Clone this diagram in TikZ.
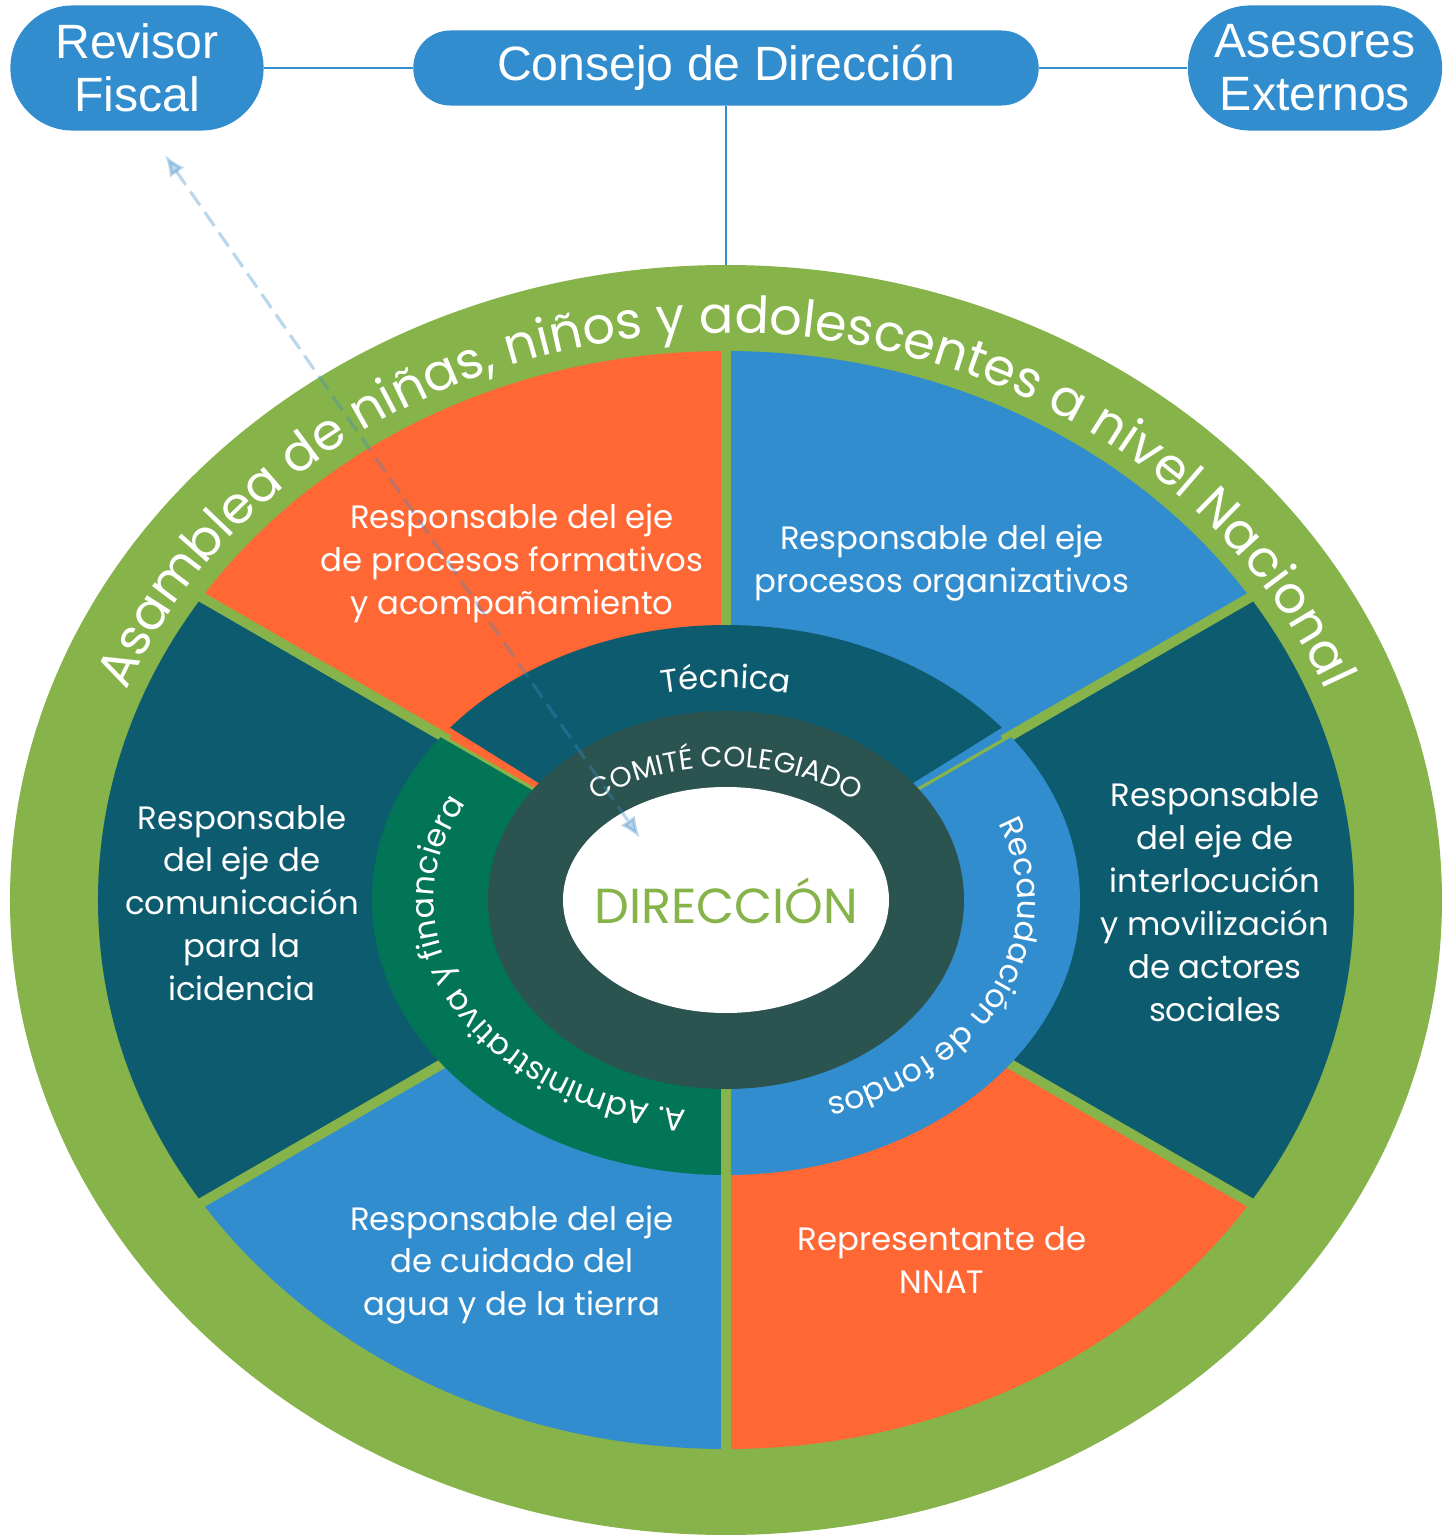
\documentclass[tikz,border=0pt]{standalone}
\usepackage{fontspec}
\setmainfont{Poppins}
\newfontfamily\boxfont{Liberation Sans}
\usetikzlibrary{arrows.meta,decorations.text,positioning}

\definecolor{ringgreen}{RGB}{134,179,74}
\definecolor{axisorange}{RGB}{255,103,52}
\definecolor{axisblue}{RGB}{49,141,206}
\definecolor{axisteal}{RGB}{13,91,111}
\definecolor{admingreen}{RGB}{1,117,85}
\definecolor{comiteslate}{RGB}{43,84,80}
\definecolor{linkblue}{RGB}{60,140,200}

\begin{document}
\begin{tikzpicture}[x=0.01cm,y=0.01cm,
		bubble/.style={fill=axisblue,text=white,font=\boxfont\fontsize{13.7}{15}\selectfont,align=center,inner sep=0pt},
		axistext/.style={text=white,align=center,font=\fontsize{9.2}{12.2}\selectfont},
		divider/.style={ringgreen,line width=2.85pt},
		thindivider/.style={ringgreen,line width=0.9pt},
		link/.style={axisblue,line width=0.7pt},
		curved/.style={decorate,decoration={text along path,text align=center,text color=white}},
		]
	\useasboundingbox (-726,-635) rectangle (726,900);

	% asamblea ring
	\fill[ringgreen] (0,0) ellipse[x radius=716,y radius=635];

	% ejes
	\begin{scope}
		\clip (0,0) ellipse[x radius=628,y radius=549];
		\fill[axisorange] (0,0) -- (90:800) -- (120:800) -- (150:800) -- cycle;
		\fill[axisblue] (0,0) -- (30:800) -- (60:800) -- (90:800) -- cycle;
		\fill[axisteal] (0,0) -- (-30:800) -- (0:800) -- (30:800) -- cycle;
		\fill[axisorange] (0,0) -- (270:800) -- (300:800) -- (330:800) -- cycle;
		\fill[axisblue] (0,0) -- (210:800) -- (240:800) -- (270:800) -- cycle;
		\fill[axisteal] (0,0) -- (150:800) -- (180:800) -- (210:800) -- cycle;
	\end{scope}
	\foreach \a in {30,150,210,330}
		\draw[divider] (\a:320) -- (\a:660);
	\draw[divider] (90:260) -- (90:600);

	% areas
	\begin{scope}
		\clip (0,0) ellipse[x radius=354,y radius=275];
		\fill[axisteal] (0,0) -- (32:500) -- (90:500) -- (148:500) -- cycle;
		\fill[admingreen] (0,0) -- (150:500) -- (210:500) -- (270:500) -- cycle;
		\fill[axisblue] (0,0) -- (270:500) -- (330:500) -- (30:500) -- cycle;
	\end{scope}
	\draw[thindivider] (150:200) -- (150:330);
	\draw[thindivider] (30:200) -- (30:330);
	\draw[divider] (270:180) -- (270:600);

	% comite and direccion
	\fill[comiteslate] (0,0) ellipse[x radius=238,y radius=189];
	\fill[white] (0,0) ellipse[x radius=163,y radius=113];
	\path (0,-23) node[anchor=base,text=ringgreen,font=\fontsize{14}{14}\selectfont] (direccion) {DIRECCIÓN};

	\path (-214,337) node[axistext] (formativos) {Responsable del eje\\de procesos formativos\\y acompañamiento};
	\path (216,337) node[axistext] (organizativos) {Responsable del eje\\procesos organizativos};
	\path (489,-2) node[axistext] (interlocucion) {Responsable\\del eje de\\interlocución\\y movilización\\de actores\\sociales};
	\path (216,-360) node[axistext] (nnat) {Representante de\\NNAT};
	\path (-214,-365) node[axistext] (cuidado) {Responsable del eje\\de cuidado del\\agua y de la tierra};
	\path (-484,-3) node[axistext] (comunicacion) {Responsable\\del eje de\\comunicación\\para la\\icidencia};

	\path[curved,decoration={text={|\fontsize{14.5}{14.5}\selectfont|Asamblea de niñas, niños y adolescentes a nivel Nacional}}]
		(165:645 and 567) arc[start angle=165,end angle=15,x radius=645,y radius=567];
	\path[curved,decoration={text={|\fontsize{9.2}{9.2}\selectfont|Técnica}}]
		(125:290 and 212) arc[start angle=125,end angle=55,x radius=290,y radius=212];
	\path[curved,decoration={text={|\fontsize{8}{8}\selectfont|COMITÉ COLEGIADO}}]
		(155:196 and 133) arc[start angle=155,end angle=25,x radius=196,y radius=133];
	\path[curved,decoration={text={|\fontsize{9}{9}\selectfont|A. Administrativa y financiera}}]
		(267:292 and 212) arc[start angle=267,end angle=147,x radius=292,y radius=212];
	\path[curved,decoration={text={|\fontsize{9}{9}\selectfont|Recaudación de fondos}}]
		(30:292 and 212) arc[start angle=30,end angle=-77,x radius=292,y radius=212];

	% top
	\path (-589,832) node[bubble,minimum width=2.53cm,minimum height=1.25cm,rounded corners=0.62cm] (revisor) {Revisor\\Fiscal};
	\path (0,832) node[bubble,minimum width=6.25cm,minimum height=0.75cm,rounded corners=0.37cm] (consejo) {Consejo de Dirección};
	\path (589,832) node[bubble,minimum width=2.54cm,minimum height=1.25cm,rounded corners=0.62cm] (asesores) {Asesores\\Externos};
	\coordinate (ringtop) at (0,635);
	\draw[link] (revisor) -- (consejo);
	\draw[link] (consejo) -- (asesores);
	\draw[link] (consejo) -- (ringtop);

	\coordinate (fiscaltip) at (-561,745);
	\coordinate (direcciontip) at (-86,62);
	\draw[linkblue,opacity=0.35,line width=0.9pt,dash pattern=on 4.8pt off 2.3pt,{Latex[length=6pt,width=5pt]}-{Latex[length=6pt,width=5pt]}] (fiscaltip) -- (direcciontip);
\end{tikzpicture}
\end{document}
